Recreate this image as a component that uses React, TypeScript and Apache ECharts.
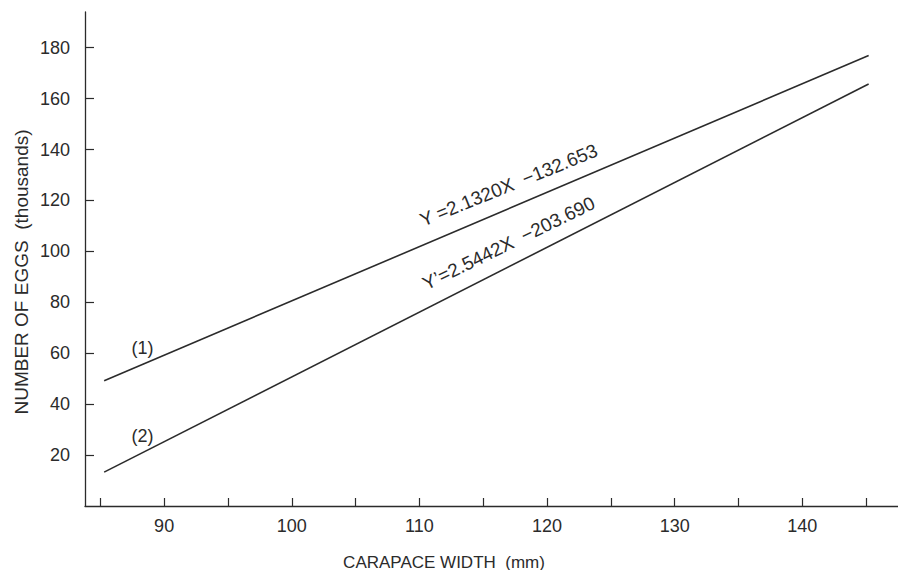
import React, { useEffect, useRef } from "react";
import * as echarts from "echarts";

// Regression lines: egg count (thousands) against carapace width (mm)
const xTicks = [85, 90, 95, 100, 105, 110, 115, 120, 125, 130, 135, 140, 145];
const xLabels = [90, 100, 110, 120, 130, 140];
const yTicks = [20, 40, 60, 80, 100, 120, 140, 160, 180];

// End points of each fitted line [width, eggs]
const line1 = [
  [85.3, 49.2],
  [145.2, 176.9],
];
const line2 = [
  [85.3, 13.3],
  [145.2, 165.7],
];

const eq1 = "Y =2.1320X  −132.653";
const eq2 = "Y’=2.5442X  −203.690";

const INK = "#2b2b2b";
const FONT = "Liberation Sans, Arial, sans-serif";

export default function App() {
  const ref = useRef<HTMLDivElement>(null);

  useEffect(() => {
    if (!ref.current) return;
    const chart = echarts.init(ref.current, null, { renderer: "svg" });

    const labelStyle = (text: string, rotate: number, size: number) => ({
      show: true,
      position: "inside",
      formatter: text,
      rotate,
      fontSize: size,
      fontFamily: FONT,
      color: INK,
    });

    chart.setOption({
      animation: false,
      backgroundColor: "#ffffff",
      grid: { left: 85, right: 0, top: 12, bottom: 64 },
      xAxis: {
        type: "value",
        min: 83.8,
        max: 147.5,
        axisLine: { show: true, lineStyle: { color: INK, width: 1.3 } },
        axisTick: {
          show: true,
          inside: true,
          length: 8,
          customValues: xTicks,
          lineStyle: { color: INK, width: 1.2 },
        },
        axisLabel: {
          customValues: xLabels,
          margin: 11,
          fontSize: 18,
          fontFamily: FONT,
          color: INK,
        },
        splitLine: { show: false },
      },
      yAxis: {
        type: "value",
        min: 0,
        max: 194,
        axisLine: { show: true, lineStyle: { color: INK, width: 1.3 } },
        axisTick: {
          show: true,
          inside: true,
          length: 9,
          customValues: yTicks,
          lineStyle: { color: INK, width: 1.2 },
        },
        axisLabel: {
          customValues: yTicks,
          margin: 15,
          fontSize: 18,
          fontFamily: FONT,
          color: INK,
        },
        splitLine: { show: false },
      },
      graphic: [
        {
          type: "text",
          x: 444,
          y: 562,
          style: {
            text: "CARAPACE WIDTH  (mm)",
            fontSize: 17,
            fontFamily: FONT,
            fill: INK,
            textAlign: "center",
            textVerticalAlign: "middle",
          },
        },
        {
          type: "text",
          x: 21.5,
          y: 272,
          rotation: Math.PI / 2,
          style: {
            text: "NUMBER OF EGGS  (thousands)",
            fontSize: 19,
            fontFamily: FONT,
            fill: INK,
            textAlign: "center",
            textVerticalAlign: "middle",
          },
        },
      ],
      series: [
        {
          type: "line",
          data: line1,
          symbol: "none",
          lineStyle: { color: INK, width: 1.6 },
          markPoint: {
            symbol: "circle",
            symbolSize: 0,
            data: [
              { coord: [117.0, 126.0], label: labelStyle(eq1, 22, 19) },
              { coord: [88.3, 62.0], label: labelStyle("(1)", 0, 18) },
            ],
          },
        },
        {
          type: "line",
          data: line2,
          symbol: "none",
          lineStyle: { color: INK, width: 1.6 },
          markPoint: {
            symbol: "circle",
            symbolSize: 0,
            data: [
              { coord: [117.0, 103.2], label: labelStyle(eq2, 26, 19) },
              { coord: [88.3, 27.5], label: labelStyle("(2)", 0, 18) },
            ],
          },
        },
      ],
    });

    return () => chart.dispose();
  }, []);

  return (
    <div
      ref={ref}
      style={{ position: "fixed", left: 0, top: 0, width: 898, height: 570 }}
    />
  );
}
